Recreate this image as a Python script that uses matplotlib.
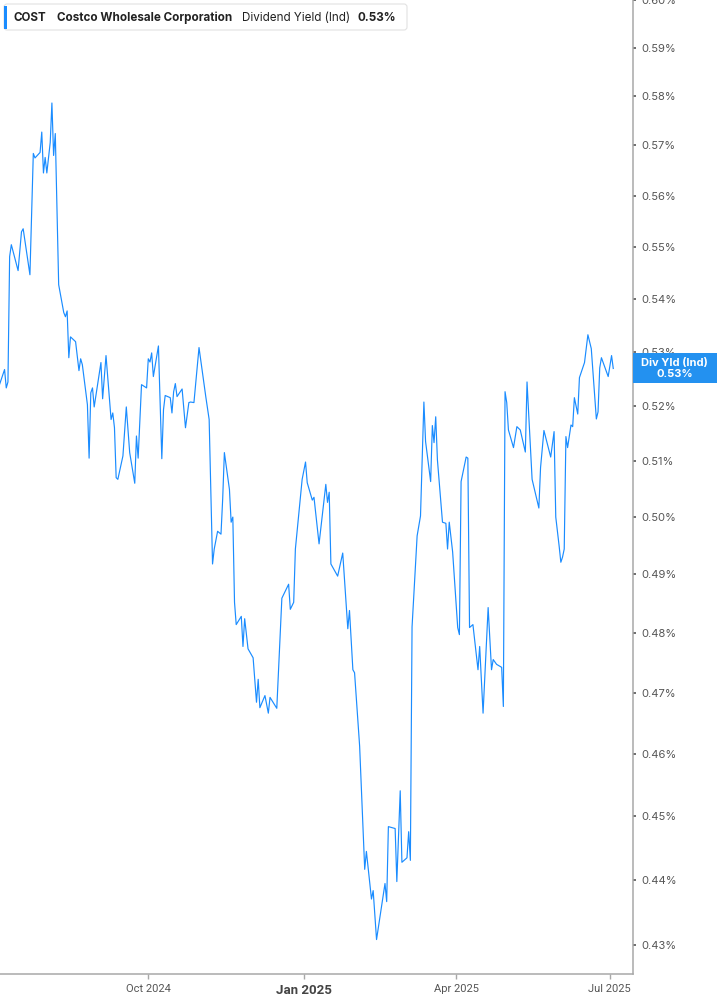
import numpy as np
import pandas as pd
import matplotlib
matplotlib.use("Agg")
import matplotlib.pyplot as plt
import matplotlib.dates as mdates
from matplotlib.patches import FancyBboxPatch, Rectangle
from matplotlib.ticker import FixedLocator, FuncFormatter, NullLocator
from matplotlib.transforms import IdentityTransform

# Data: dividend yield (%), days counted from start_date
start_date = "2024-07-05"
day_offsets = [
    0, 3, 4, 5, 6, 7, 11, 13, 14, 18, 20, 21, 24, 25, 26, 27, 28, 30, 31, 32,
    33, 35, 38, 39, 40, 41, 42, 45, 47, 48, 49, 52, 53, 54, 55, 56, 60, 61, 63, 66,
    67, 68, 69, 70, 73, 75, 77, 80, 81, 82, 84, 87, 88, 89, 90, 91, 94, 96, 97, 98,
    101, 102, 103, 104, 105, 108, 110, 112, 113, 115, 118, 122, 124, 126, 127, 129, 131, 132, 133, 136,
    137, 138, 139, 140, 143, 144, 145, 147, 150, 152, 153, 154, 157, 159, 160, 164, 167, 171, 172, 174,
    175, 179, 181, 182, 185, 186, 189, 193, 194, 195, 196, 200, 203, 206, 207, 209, 210, 213, 216, 217,
    220, 221, 223, 228, 229, 230, 234, 235, 237, 238, 241, 242, 243, 244, 247, 249, 251, 252, 255, 256,
    257, 258, 259, 262, 264, 265, 266, 268, 271, 272, 273, 276, 277, 278, 280, 283, 284, 286, 289, 291,
    292, 294, 297, 298, 299, 300, 301, 304, 306, 308, 311, 312, 315, 319, 320, 322, 326, 328, 329, 331,
    332, 333, 334, 335, 336, 338, 339, 340, 342, 343, 346, 348, 350, 353, 354, 355, 356, 360, 362, 363,
]
yield_pct = [
    0.5239, 0.5267, 0.5233, 0.5244, 0.5481, 0.5504, 0.5454, 0.5529, 0.5535, 0.5446,
    0.5684, 0.5675, 0.5686, 0.5727, 0.5645, 0.5676, 0.5645, 0.5706, 0.5786, 0.5680,
    0.5724, 0.5427, 0.5374, 0.5366, 0.5377, 0.5289, 0.5328, 0.5319, 0.5265, 0.5287,
    0.5276, 0.5202, 0.5105, 0.5224, 0.5233, 0.5198, 0.5280, 0.5213, 0.5293, 0.5175,
    0.5187, 0.5160, 0.5070, 0.5067, 0.5109, 0.5198, 0.5115, 0.5060, 0.5145, 0.5105,
    0.5239, 0.5233, 0.5287, 0.5281, 0.5298, 0.5254, 0.5311, 0.5104, 0.5193, 0.5219,
    0.5215, 0.5187, 0.5226, 0.5241, 0.5217, 0.5231, 0.5160, 0.5206, 0.5207, 0.5206,
    0.5308, 0.5217, 0.5175, 0.4918, 0.4944, 0.4975, 0.4970, 0.5032, 0.5115, 0.5049,
    0.4991, 0.5000, 0.4852, 0.4814, 0.4828, 0.4777, 0.4824, 0.4773, 0.4758, 0.4684,
    0.4722, 0.4675, 0.4695, 0.4666, 0.4692, 0.4674, 0.4859, 0.4883, 0.4840, 0.4852,
    0.4944, 0.5067, 0.5098, 0.5061, 0.5030, 0.5035, 0.4953, 0.5058, 0.5026, 0.5044,
    0.4918, 0.4897, 0.4937, 0.4807, 0.4838, 0.4738, 0.4733, 0.4612, 0.4416, 0.4444,
    0.4370, 0.4383, 0.4308, 0.4394, 0.4366, 0.4483, 0.4480, 0.4397, 0.4540, 0.4427,
    0.4434, 0.4475, 0.4430, 0.4810, 0.4967, 0.5002, 0.5207, 0.5135, 0.5063, 0.5164,
    0.5133, 0.5180, 0.5102, 0.4991, 0.4989, 0.4944, 0.4991, 0.4939, 0.4809, 0.4797,
    0.5063, 0.5107, 0.5105, 0.4809, 0.4814, 0.4738, 0.4777, 0.4666, 0.4843, 0.4738,
    0.4755, 0.4747, 0.4742, 0.4677, 0.5226, 0.5206, 0.5156, 0.5124, 0.5162, 0.5156,
    0.5116, 0.5244, 0.5067, 0.5016, 0.5088, 0.5155, 0.5107, 0.5153, 0.5000, 0.4949,
    0.4921, 0.4930, 0.4944, 0.5144, 0.5124, 0.5165, 0.5162, 0.5215, 0.5185, 0.5252,
    0.5280, 0.5332, 0.5306, 0.5176, 0.5189, 0.5270, 0.5289, 0.5254, 0.5293, 0.5269,
]

x_tick_dates = ["2024-10-01", "2025-01-01", "2025-04-01", "2025-07-01"]
x_tick_labels = ["Oct 2024", "Jan 2025", "Apr 2025", "Jul 2025"]
y_ticks = [0.43, 0.44, 0.45, 0.46, 0.47, 0.48, 0.49, 0.50, 0.51,
           0.52, 0.53, 0.54, 0.55, 0.56, 0.57, 0.58, 0.59, 0.60]

ticker_name = "COST"
company_name = "Costco Wholesale Corporation"
metric_name = "Dividend Yield (Ind)"
tag_name = "Div Yld (Ind)"

line_blue = "#1a8cff"
tag_blue = "#2391f0"
grey_txt = "#555555"
axis_grey = "#a8a8a8"

W, H = 717, 1005
fig = plt.figure(figsize=(W / 100, H / 100), dpi=100)
ax = fig.add_axes([0, 31 / H, 632.7 / W, 1 - 31 / H])

t0 = pd.Timestamp(start_date)
dates = t0 + pd.to_timedelta(day_offsets, unit="D")
ax.plot(dates, yield_pct, color=line_blue, lw=0.85)

ax.set_yscale("log")
ax.set_ylim(0.4256, 0.6)
ax.set_xlim(t0 + pd.Timedelta(days=0.3), t0 + pd.Timedelta(days=374.5))

# y axis on the right
ax.yaxis.tick_right()
ax.yaxis.set_major_locator(FixedLocator(y_ticks))
ax.yaxis.set_minor_locator(NullLocator())
ax.yaxis.set_major_formatter(FuncFormatter(lambda v, _: f"{v:.2f}%"))
ax.tick_params(axis="y", length=2.5, width=1.2, color=grey_txt, pad=3.5,
               labelsize=8, labelcolor=grey_txt)
for lab in ax.get_yticklabels():
    lab.set_fontfamily("Inter")

# x axis
ax.set_xticks(pd.to_datetime(x_tick_dates))
ax.set_xticklabels(x_tick_labels)
ax.tick_params(axis="x", length=3.5, width=1, color=axis_grey, pad=4,
               labelsize=8, labelcolor=grey_txt)
for i, lab in enumerate(ax.get_xticklabels()):
    lab.set_fontfamily("Roboto")
    if x_tick_labels[i].startswith("Jan"):
        lab.set_fontweight("bold")
        lab.set_fontsize(9.5)
        lab.set_color("#444444")

for side in ["top", "left"]:
    ax.spines[side].set_visible(False)
for side in ["right", "bottom"]:
    ax.spines[side].set_color(axis_grey)
    ax.spines[side].set_linewidth(1.1)

# header box
ident = IdentityTransform()
fig.add_artist(FancyBboxPatch((4, H - 30), 403, 26,
                              boxstyle="round,pad=0,rounding_size=3",
                              fc="white", ec="#e2e2e2", lw=0.8, transform=ident))
fig.add_artist(Rectangle((4, H - 29), 3, 23, fc=line_blue, ec="none", transform=ident))
hy = H - 17.5
fig.text(13, hy, ticker_name, transform=ident, fontsize=8.4, fontweight="bold",
         family="Inter", color="#222222", va="center")
fig.text(57, hy, company_name, transform=ident, fontsize=8.4, fontweight="bold",
         family="Inter", color="#222222", va="center")
fig.text(242, hy, metric_name, transform=ident, fontsize=8.4,
         family="Inter", color="#222222", va="center")
fig.text(358, hy, f"{yield_pct[-1]:.2f}%", transform=ident, fontsize=8.4,
         fontweight="bold", family="Inter", color="#222222", va="center")

# last-value tag on the right axis
last_x = mdates.date2num(dates[-1].to_pydatetime())
yc = ax.transData.transform((last_x, yield_pct[-1]))[1]
x_axis_px = 632.7
fig.add_artist(Rectangle((x_axis_px, yc - 15), W - x_axis_px, 30, fc=tag_blue,
                         ec="none", transform=ident))
tag_cx = (x_axis_px + W) / 2
fig.text(tag_cx, yc + 5.5, tag_name, transform=ident, fontsize=8, fontweight="bold",
         family="Inter", color="white", ha="center", va="center")
fig.text(tag_cx, yc - 5.5, f"{yield_pct[-1]:.2f}%", transform=ident, fontsize=8,
         fontweight="bold", family="Inter", color="white", ha="center", va="center")

fig.savefig("out.png", dpi=100)
